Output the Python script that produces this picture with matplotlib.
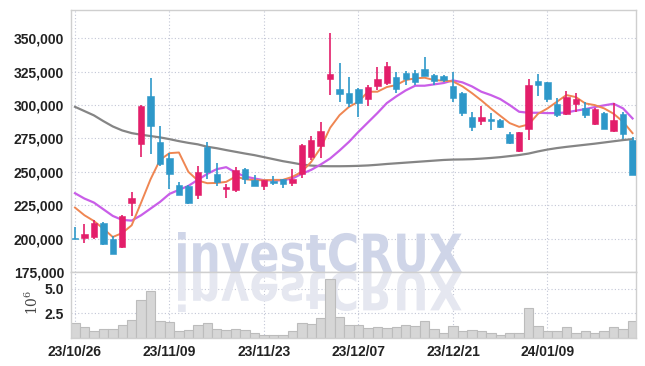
import numpy as np
import matplotlib.pyplot as plt
from matplotlib.textpath import TextPath
from matplotlib.patches import PathPatch
from matplotlib.font_manager import FontProperties
from matplotlib.transforms import Affine2D
from matplotlib.ticker import FuncFormatter

plt.rcParams['font.family'] = ['Liberation Sans', 'DejaVu Sans']
plt.rcParams['mathtext.fontset'] = 'dejavuserif'

# axis labels
tick_idx = [0, 10, 20, 30, 40, 50]
tick_labels = ['23/10/26', '23/11/09', '23/11/23', '23/12/07', '23/12/21', '24/01/09']

# daily candles (won)
opens = [200200, 200300, 201200, 212000, 199500, 193700, 226700, 270500, 307000, 272500,
         260000, 240500, 239200, 233000, 268700, 248200, 237500, 236200, 252500, 244200,
         239500, 243000, 244500, 242000, 248700, 261200, 269500, 319500, 312000, 309200,
         311700, 304200, 314500, 316200, 320700, 324200, 324200, 327000, 322500, 321700,
         314200, 309200, 290700, 288200, 289500, 288700, 278200, 265700, 282000, 318000,
         317000, 300700, 293200, 300700, 298000, 286200, 294200, 280700, 293200, 273700]
highs = [208500, 211200, 214200, 212200, 202000, 218000, 235200, 300000, 320000, 284200,
         264000, 242500, 240000, 254500, 272000, 257000, 240700, 253700, 253000, 248000,
         244000, 247000, 245000, 252500, 271200, 277000, 287500, 353700, 331200, 320700,
         312500, 315000, 328200, 332000, 325000, 325700, 326000, 335700, 323000, 322500,
         325000, 309500, 295000, 299500, 294200, 289500, 279500, 279500, 319200, 323000,
         317500, 305500, 310200, 308700, 302000, 297500, 295000, 301200, 295000, 276200]
lows = [199500, 197000, 200000, 195500, 188200, 193000, 216700, 261200, 263700, 254200,
        237500, 233000, 225700, 229500, 245000, 239500, 230500, 235000, 241200, 239500,
        236700, 240000, 238200, 239200, 245500, 258700, 260000, 307500, 302500, 298700,
        291200, 299200, 311200, 315000, 308700, 315000, 315000, 322000, 315000, 317000,
        302500, 292000, 280700, 285000, 281700, 283000, 271200, 264500, 274200, 306700,
        302500, 291200, 292500, 295000, 290000, 285000, 282000, 280000, 274500, 247500]
closes = [200000, 203500, 212000, 195700, 188700, 217200, 230200, 299500, 284500, 255700,
          248700, 233000, 226700, 250000, 250000, 242500, 238500, 251200, 245000, 239500,
          243700, 241500, 241200, 244500, 270000, 274200, 280500, 323000, 308200, 301200,
          301200, 313200, 319500, 329200, 311700, 319500, 317500, 322000, 318000, 318700,
          305500, 294200, 283700, 290700, 288200, 283700, 271700, 279500, 315000, 315000,
          304200, 292500, 305700, 304500, 292500, 297000, 282000, 289200, 278200, 247500]

# moving averages as drawn
ma5 = [223250, 217500, 213200, 207500, 201200, 204200, 210000, 227000, 244500, 259000,
       264000, 264500, 250000, 243500, 241500, 241700, 242500, 246500, 244500, 243750,
       243750, 244000, 244000, 246250, 250000, 257500, 268000, 283000, 292500, 298700,
       302500, 310000, 310000, 313500, 315000, 318750, 320000, 320500, 318750, 318250,
       317700, 314000, 309000, 303500, 297500, 292000, 286500, 283700, 285500, 293500,
       297500, 302500, 307500, 306000, 301250, 300000, 297500, 293500, 287500, 279000]
ma20 = [234000, 230000, 227000, 222000, 217000, 214000, 213500, 217500, 222500, 227500,
        233500, 236500, 239500, 244000, 248500, 252000, 253500, 249500, 246500, 245000,
        243750, 243500, 243750, 245000, 248500, 251500, 255500, 260000, 266000, 272500,
        280000, 287000, 294000, 301500, 306500, 311000, 314500, 314500, 315500, 316500,
        318500, 317000, 314000, 310000, 307500, 304500, 300000, 295000, 294250, 294250,
        294000, 294000, 294500, 295800, 297000, 298500, 299800, 301000, 297500, 290000]
ma60 = [298700, 295500, 292300, 288000, 284000, 281000, 279000, 277800, 276800, 275800,
        274500, 273000, 271700, 270600, 268800, 267700, 266300, 265000, 263700, 262500,
        261000, 259500, 258000, 256800, 255500, 254700, 254300, 254200, 254200, 254300,
        254500, 254800, 255300, 255900, 256400, 256900, 257400, 257900, 258400, 258900,
        259200, 259300, 259500, 259900, 260400, 261000, 261800, 262600, 263700, 265300,
        266700, 267800, 268700, 269500, 270300, 271100, 272000, 272900, 273800, 274500]

# volume, millions of shares
volume_m = [1.52, 1.12, 0.64, 0.91, 0.91, 1.32, 1.82, 3.85, 4.76, 1.72,
            1.62, 0.71, 0.81, 1.32, 1.52, 0.91, 0.81, 0.91, 0.81, 0.51,
            0.30, 0.30, 0.30, 0.64, 1.52, 1.45, 2.03, 5.98, 2.09, 1.32,
            1.32, 0.98, 1.12, 0.98, 1.12, 1.32, 1.22, 1.72, 0.91, 0.44,
            1.22, 0.71, 0.81, 0.71, 0.44, 0.30, 0.51, 0.51, 3.04, 1.25,
            0.71, 0.71, 1.12, 0.51, 0.71, 0.51, 0.64, 1.05, 0.91, 1.72]

UP = '#e31e6a'
DOWN = '#2e98c9'
GRID = '#c2c6d6'
SPINE = '#cfcfcf'
TXT = '#222222'

W, H = 645, 366
fig = plt.figure(figsize=(W / 100, H / 100), dpi=100)
ax = fig.add_axes([0.1101, 0.2568, 0.876, 0.7159])
axv = fig.add_axes([0.1101, 0.0773, 0.876, 0.1795], sharex=ax)

x = np.arange(len(closes))
o = np.array(opens)
c = np.array(closes)
cols = np.where(c >= o, UP, DOWN)
cols[0] = DOWN

# moving averages (under the candles)
ax.plot(x, ma60, color='#858585', lw=1.6, zorder=2)
ax.plot(x, ma20, color='#c95ee8', lw=1.6, zorder=2)
ax.plot(x, ma5, color='#ef8652', lw=1.4, zorder=2)

# candles
ax.vlines(x, lows, highs, colors=cols, lw=1.2, zorder=3)
ax.bar(x, np.maximum(np.abs(c - o), 500), bottom=np.minimum(o, c), width=0.68,
       color=cols, edgecolor=cols, lw=0.4, zorder=4)

ax.set_xlim(-0.42, 59.37)
ax.set_ylim(175000, 371200)
ax.set_yticks(np.arange(175000, 350001, 25000))
ax.yaxis.set_major_formatter(FuncFormatter(lambda v, p: f'{int(v):,}'))

# volume
axv.bar(x, volume_m, width=1.0, color='#d6d6d6', edgecolor='#bcbcbc', lw=0.8, zorder=2)
axv.set_ylim(0, 6.73)
axv.set_yticks([2.5, 5.0])
axv.set_yticklabels(['2.5', '5.0'])
axv.set_xticks(tick_idx)
axv.set_xticklabels(tick_labels)
fig.text(0.050, 0.175, '$10^6$', rotation=90, ha='center', va='center',
         fontsize=10, color='#444444')

for a in (ax, axv):
    a.grid(True, color=GRID, lw=0.8, ls=(0, (1, 2)), zorder=0)
    a.set_axisbelow(True)
    a.tick_params(length=0, pad=5, labelsize=10, labelcolor=TXT)
    for s in a.spines.values():
        s.set_color(SPINE)
        s.set_linewidth(1.0)
    for t in a.get_xticklabels() + a.get_yticklabels():
        t.set_fontweight('bold')
ax.set_xticks(tick_idx)
ax.tick_params(labelbottom=False)

# watermark + reflection
fp = FontProperties(family='DejaVu Sans', weight='bold')
tp = TextPath((0, 0), 'investCRUX', size=100, prop=fp)
ext = tp.get_extents()
sx = (462 - 178) / ext.width
sy = 40 / ext.y1
base = H - 272
tr = Affine2D().translate(-ext.x0, 0).scale(sx, sy).translate(178, base)
ax.add_patch(PathPatch(tp, transform=tr, fc='#cfd5e8', ec='none', zorder=1, clip_on=False))
tr2 = Affine2D().translate(-ext.x0, 0).scale(sx, -sy).translate(178, base)
axv.add_patch(PathPatch(tp, transform=tr2, fc='#e5e7f0', ec='none', zorder=1))

fig.savefig('out.png', dpi=100)
